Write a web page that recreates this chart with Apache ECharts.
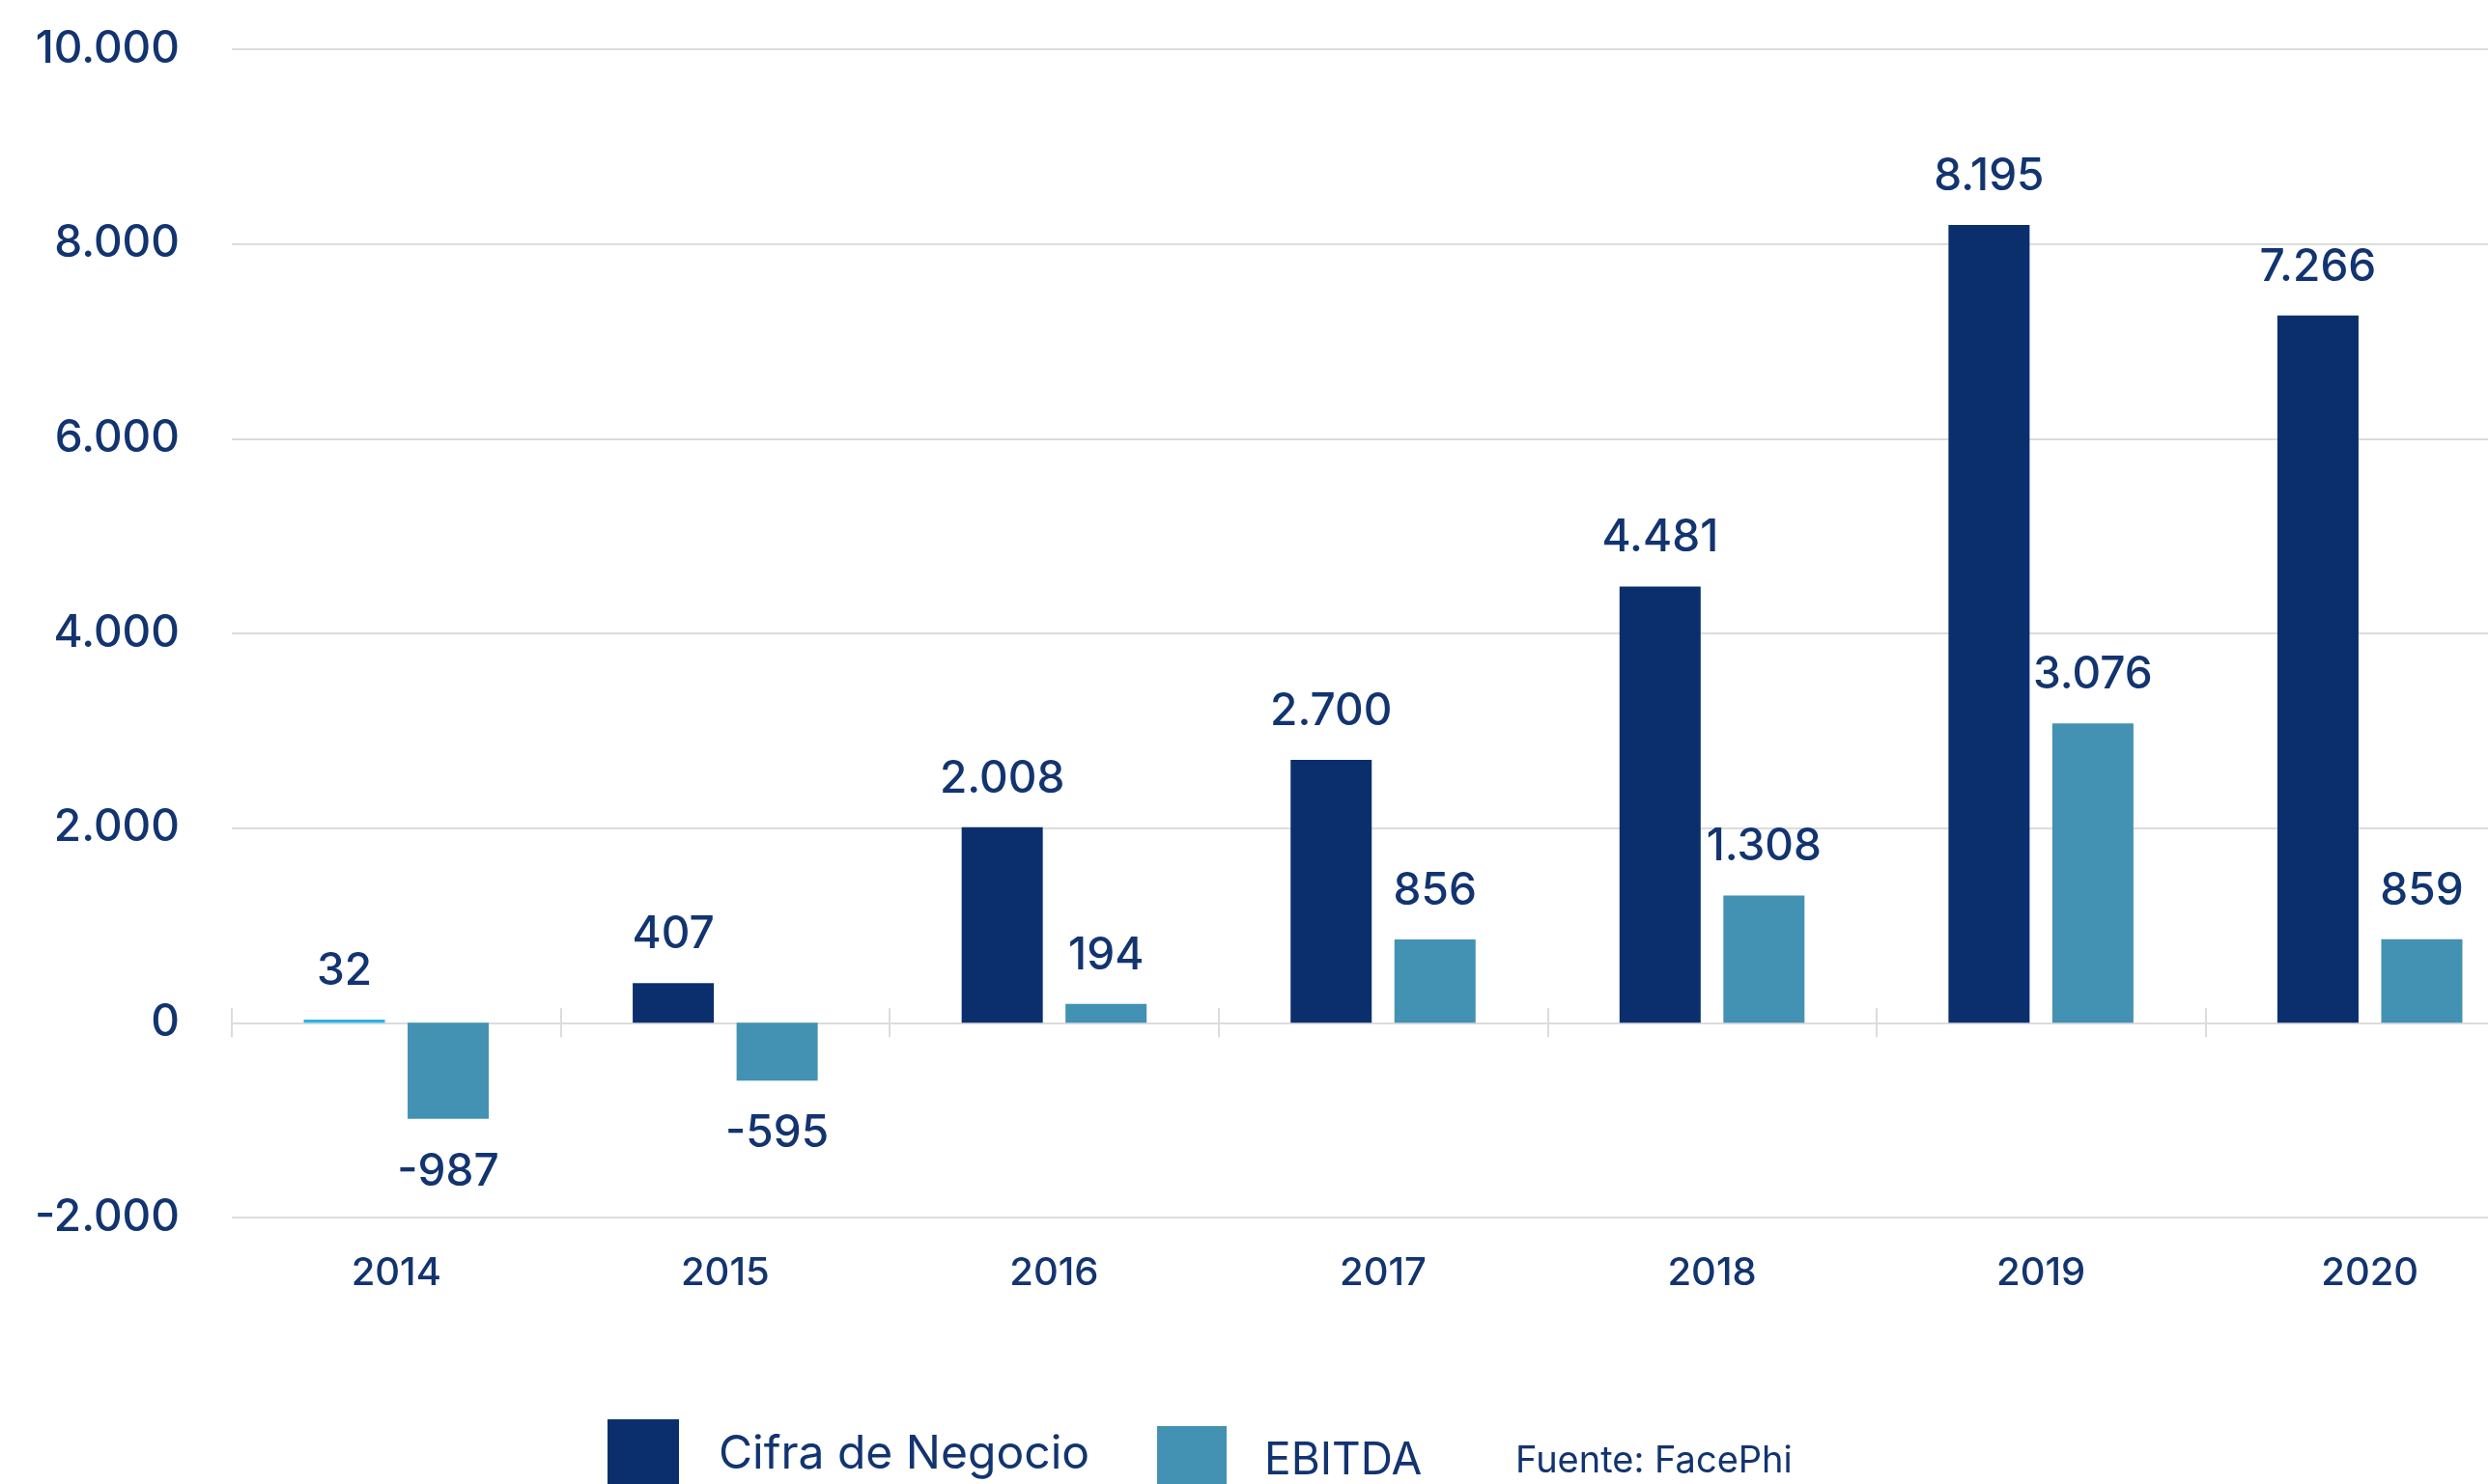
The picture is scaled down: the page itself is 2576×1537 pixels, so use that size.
<!DOCTYPE html>
<html>
<head>
<meta charset="utf-8">
<script src="https://cdn.jsdelivr.net/npm/echarts@6/dist/echarts.min.js"></script>
<style>
    html, body { margin: 0; padding: 0; background: #fff; }
    #myEchart { width: 2576px; height: 1537px; }
</style>
</head>
<body>
<div id="myEchart"></div>
<script>
// datos (miles de euros)
var years = ['2014', '2015', '2016', '2017', '2018', '2019', '2020'];
var cifraNegocio = [32, 407, 2008, 2700, 4481, 8195, 7266];
var ebitda = [-987, -595, 194, 856, 1308, 3076, 859];
var yMin = -2000;
var yMax = 10000;
var yStep = 2000;
var fuente = 'Fuente: FacePhi';

var navy = '#0b2f6d';
var teal = '#4392b3';
var textColor = '#123470';
var gridColor = '#dcdcdc';
var fontName = 'Inter';

function miles(v) {
    var s = Math.abs(v).toString().replace(/\B(?=(\d{3})+(?!\d))/g, '.');
    return (v < 0 ? '-' : '') + s;
}

function toBarData(arr, firstColor) {
    return arr.map(function (v, i) {
        var item = {value: v};
        if (v < 0) item.label = {position: 'bottom', distance: 32};
        if (i === 0 && firstColor) item.itemStyle = {color: firstColor};
        return item;
    });
}

var chart = echarts.init(document.getElementById('myEchart'));

var barLabel = {
    show: true,
    position: 'top',
    distance: 27,
    fontFamily: fontName,
    fontSize: 46,
    fontWeight: 500,
    color: textColor,
    formatter: function (p) { return miles(p.value); }
};

// eje de categorias sobre el cero (linea + marcas)
function zeroAxis(inside, yIndex) {
    return {
        type: 'category',
        data: years,
        position: 'bottom',
        axisLine: {show: true, onZero: true, onZeroAxisIndex: yIndex, lineStyle: {color: gridColor, width: 2}},
        axisTick: {show: true, inside: inside, length: 15, lineStyle: {color: gridColor, width: 2}},
        axisLabel: {show: false},
        splitLine: {show: false}
    };
}

var option = {
    animation: false,
    backgroundColor: '#fff',
    grid: {left: 240, width: 2384, top: 51, bottom: 276, containLabel: false, outerBoundsMode: 'none'},
    title: {
        text: fuente,
        left: 1569,
        top: 1495,
        padding: 0,
        textStyle: {fontFamily: fontName, fontSize: 38, fontWeight: 'normal', color: textColor}
    },
    legend: [
        {
            data: ['Cifra de Negocio'],
            left: 629, top: 1470, padding: 0,
            icon: 'rect', itemWidth: 74, itemHeight: 74,
            textStyle: {fontFamily: fontName, fontSize: 48, color: textColor, padding: [0, 0, 0, 36]}
        },
        {
            data: ['EBITDA'],
            left: 1198, top: 1477, padding: 0,
            icon: 'rect', itemWidth: 72, itemHeight: 72,
            textStyle: {fontFamily: fontName, fontSize: 46, color: textColor, padding: [0, 0, 0, 34]}
        }
    ],
    xAxis: [
        {
            type: 'category',
            data: years,
            position: 'bottom',
            axisLine: {show: false, onZero: false},
            axisTick: {show: false},
            axisLabel: {fontFamily: fontName, fontSize: 40, fontWeight: 500, color: textColor, margin: 38}
        },
        zeroAxis(false, 0),
        zeroAxis(true, 1)
    ],
    yAxis: [
        {
            type: 'value',
            min: yMin,
            max: yMax,
            interval: yStep,
            axisLine: {show: false},
            axisTick: {show: false},
            splitLine: {lineStyle: {color: gridColor, width: 2}},
            axisLabel: {
                fontFamily: fontName,
                fontSize: 46,
                fontWeight: 500,
                color: textColor,
                margin: 54,
                padding: [0, 0, 16, 0],
                formatter: function (v) { return miles(v); }
            }
        },
        {
            type: 'value',
            min: yMin,
            max: yMax,
            interval: yStep,
            show: false,
            splitLine: {show: false}
        }
    ],
    series: [
        {
            name: 'Cifra de Negocio',
            type: 'bar',
            xAxisIndex: 0,
            yAxisIndex: 0,
            barWidth: 84,
            barGap: '28%',
            itemStyle: {color: navy},
            label: barLabel,
            data: toBarData(cifraNegocio, '#2bb3e6')
        },
        {
            name: 'EBITDA',
            type: 'bar',
            xAxisIndex: 0,
            yAxisIndex: 0,
            barWidth: 84,
            barGap: '28%',
            itemStyle: {color: teal},
            label: barLabel,
            data: toBarData(ebitda)
        }
    ]
};

chart.setOption(option);
</script>
</body>
</html>
